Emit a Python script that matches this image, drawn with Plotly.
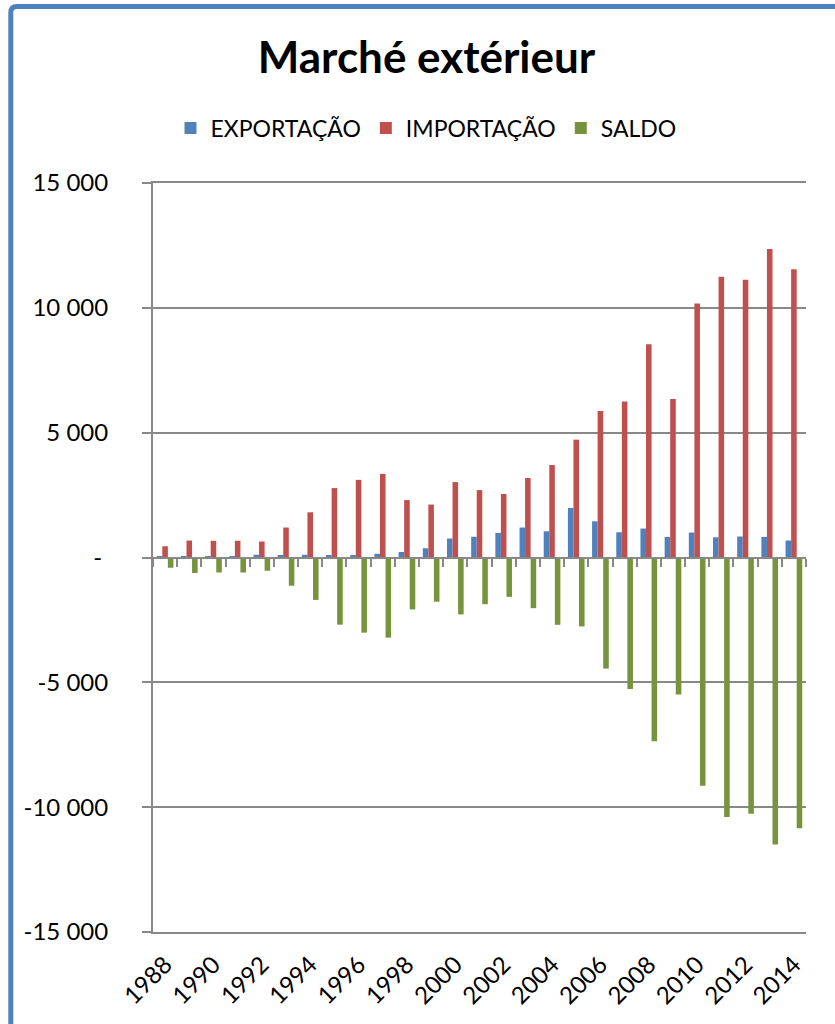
import plotly.graph_objects as go

# Foreign trade by year (values read per series)
years = list(range(1988, 2015))
exportacao = [50, 40, 40, 40, 110, 100, 110, 100, 100, 150, 220, 370, 760, 830,
              985, 1200, 1050, 1985, 1450, 1010, 1160, 825, 1000, 810, 840, 825, 680]
importacao = [450, 680, 670, 670, 640, 1200, 1810, 2780, 3110, 3350, 2300, 2120, 3020, 2700,
              2545, 3185, 3705, 4720, 5865, 6250, 8545, 6345, 10170, 11240, 11120, 12360, 11550]
saldo = [-410, -620, -600, -600, -530, -1130, -1700, -2690, -3010, -3210, -2080, -1770, -2280, -1870,
         -1575, -2030, -2695, -2760, -4450, -5265, -7360, -5490, -9145, -10390, -10260, -11500, -10840]

series_names = ["EXPORTAÇÃO", "IMPORTAÇÃO", "SALDO"]
y_tickvals = [-15000, -10000, -5000, 0, 5000, 10000, 15000]
y_ticktext = ["-15 000", "-10 000", "-5 000", "-\u00a0", "5 000", "10 000", "15 000"]
x_label_years = years[::2]

BLUE = "#4F81BD"
RED = "#C0504D"
GREEN = "#77933C"
GRID = "#888888"
FONT = "Lato"

W, H = 835, 1024
L, R, T, B = 153, 29, 183, 92
plot_w = W - L - R
plot_h = H - T - B

fig = go.Figure()
for name, vals, color in zip(series_names, [exportacao, importacao, saldo], [BLUE, RED, GREEN]):
    fig.add_trace(go.Bar(x=years, y=vals, name=name, marker=dict(color=color, line=dict(width=0))))

# carrier trace for the category axis drawn along the zero line
fig.add_trace(go.Scatter(x=[years[0]], y=[0], xaxis="x2", mode="markers",
                         marker=dict(opacity=0), showlegend=False, hoverinfo="skip"))

boundaries = [y - 0.5 for y in years] + [years[-1] + 0.5]
xrange = [years[0] - 0.5, years[-1] + 0.5]


def px_x(px):
    return (px - L) / plot_w


def px_y(py):
    return (H - B - py) / plot_h


# outer chart frame (left and top edges)
fx, fy, rad = px_x(10.8), px_y(6.5), 6
frame_path = (f"M {fx},{px_y(1100)} L {fx},{px_y(6.5 + rad)} "
              f"Q {fx},{fy} {px_x(10.8 + rad)},{fy} L {px_x(900)},{fy}")

fig.update_layout(
    width=W, height=H,
    margin=dict(l=L, r=R, t=T, b=B, pad=0),
    paper_bgcolor="white", plot_bgcolor="white",
    font=dict(family=FONT, size=23, color="black"),
    title=dict(text="Marché extérieur", x=426.5 / W, xref="container", xanchor="center",
               y=1 - 58 / H, yref="container", yanchor="middle",
               font=dict(family=FONT, size=44, weight="bold", color="black")),
    barmode="group", bargap=0.31, bargroupgap=0,
    showlegend=True,
    legend=dict(orientation="h", x=px_x(426), xanchor="center", y=px_y(128), yanchor="middle",
                font=dict(family=FONT, size=23), bgcolor="rgba(0,0,0,0)", itemclick=False),
    xaxis=dict(range=xrange, tickmode="array", tickvals=x_label_years,
               ticktext=[str(y) for y in x_label_years], tickangle=-45,
               showgrid=False, zeroline=False, ticks="",
               showline=True, mirror=True, linecolor=GRID, linewidth=2,
               ticklabelstandoff=7,
               tickfont=dict(family=FONT, size=24)),
    xaxis2=dict(overlaying="x", anchor="free", position=0.5, range=xrange,
                tickmode="array", tickvals=boundaries, showticklabels=False,
                ticks="outside", ticklen=8, tickwidth=2, tickcolor=GRID,
                showline=True, linecolor=GRID, linewidth=2,
                showgrid=False, zeroline=False),
    yaxis=dict(range=[-15000, 15000], tickmode="array", tickvals=y_tickvals, ticktext=y_ticktext,
               showgrid=True, gridcolor=GRID, gridwidth=2,
               showline=True, linecolor=GRID, linewidth=2,
               ticks="outside", ticklen=9, tickwidth=2, tickcolor=GRID,
               zeroline=False, ticklabelstandoff=29,
               tickfont=dict(family=FONT, size=24)),
    shapes=[dict(type="path", xref="paper", yref="paper", path=frame_path,
                 line=dict(color=BLUE, width=5), layer="above")],
)

fig.write_html("out.html")
